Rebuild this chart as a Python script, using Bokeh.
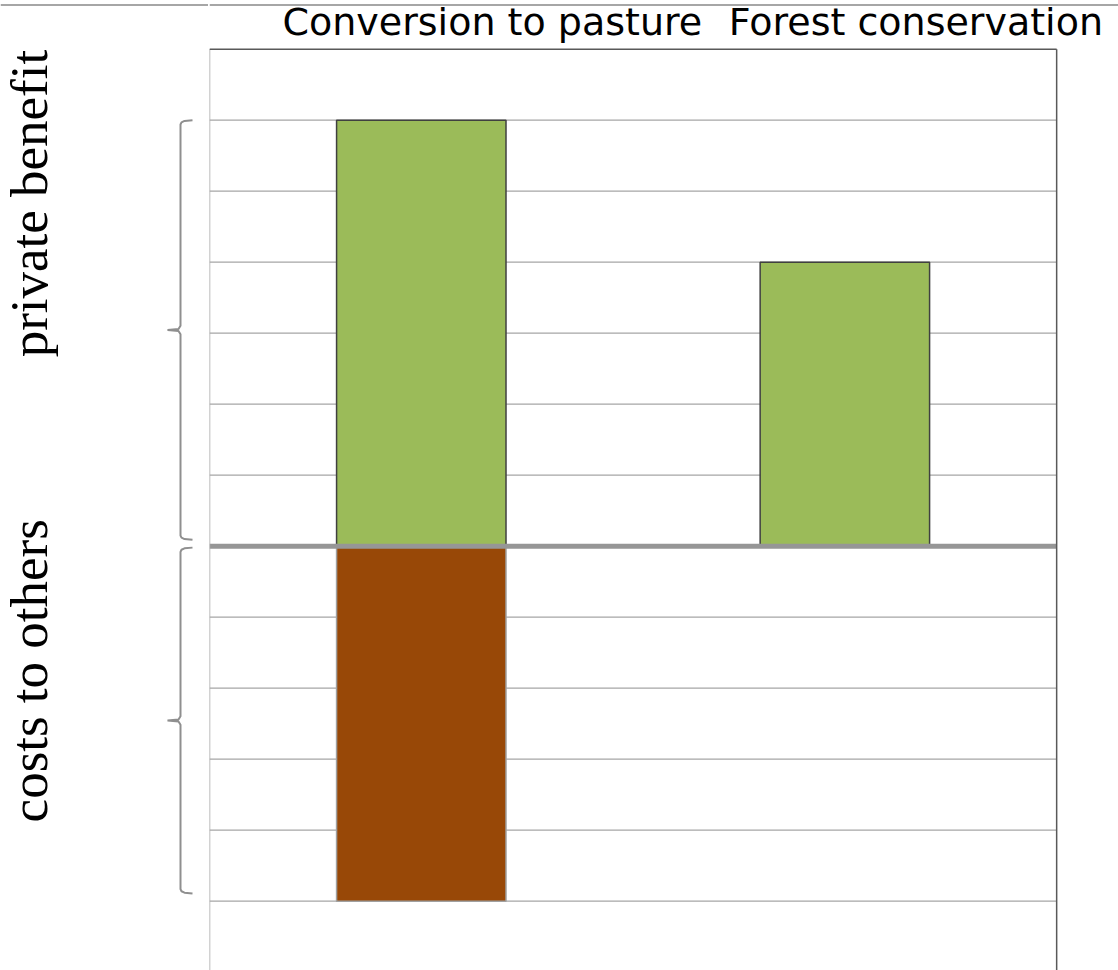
import math
from bokeh.plotting import figure
from bokeh.models import Range1d, Span, ColumnDataSource
from bokeh.layouts import row
from bokeh.core.properties import value
from bokeh.embed import file_html
from bokeh.resources import INLINE

# ---- data ----
categories = ["Conversion to pasture", "Forest conservation"]
private_benefit = [6, 4]
costs_to_others = [-5, 0]
gridline_values = [-5, -4, -3, -2, -1, 1, 2, 3, 4, 5, 6]
box_top = 7                      # top edge of the plot box (value units)
y_min, y_max = -5.976, 7.686     # visible value range of the page
x_max = 2.146                    # category units visible (labels overflow the box)
side_labels = ["private benefit", "costs to others"]
side_label_starts = [2.66, -3.89]
cat_label_y = 7.39
page_rule_y = 7.622

GREEN = "#9BBB59"
BROWN = "#984807"
GRID = "#A6A6A6"
DARK = "#595959"

n = len(categories)
x_pos = [i + 0.5 for i in range(n)]
yr = Range1d(y_min, y_max)

# ---- main chart ----
main = figure(width=910, height=970,
              x_range=Range1d(0, x_max), y_range=yr,
              x_axis_location=None, y_axis_location=None,
              toolbar_location=None, output_backend="svg",
              min_border_left=1, min_border_right=0,
              min_border_top=0, min_border_bottom=0,
              outline_line_color=None)
main.grid.visible = False

main.segment(x0=0, x1=n, y0=gridline_values, y1=gridline_values,
             line_color=GRID, line_width=1.3)

src = ColumnDataSource(dict(x=x_pos, pb=private_benefit, co=costs_to_others))
main.vbar(x="x", top="co", bottom=0, width=0.4, source=src,
          fill_color=BROWN, line_color="#A0A0A0", line_width=1.5)
main.vbar(x="x", top="pb", bottom=0, width=0.4, source=src,
          fill_color=GREEN, line_color="#404040", line_width=1.5)

# zero line and plot box
main.segment(x0=0, x1=n, y0=0, y1=0, line_color="#969696", line_width=5)
main.segment(x0=0, x1=0, y0=y_min, y1=box_top, line_color=GRID, line_width=1.5)
main.segment(x0=n, x1=n, y0=y_min, y1=box_top, line_color=DARK, line_width=1.5)
main.segment(x0=0, x1=n, y0=box_top, y1=box_top, line_color=DARK, line_width=1.5)

main.text(x=x_pos, y=[cat_label_y] * n, text=categories, x_offset=71,
          text_align="center", text_baseline="alphabetic",
          text_font=value("DejaVu Sans"), text_font_size="38px",
          text_color="#000000")

main.add_layout(Span(location=page_rule_y, dimension="width", line_color=GRID, line_width=2))

# ---- left side: braces and rotated labels ----
left = figure(width=208, height=970, x_range=Range1d(0, 208), y_range=yr,
              x_axis_location=None, y_axis_location=None,
              toolbar_location=None, output_backend="svg",
              min_border_left=0, min_border_right=0,
              min_border_top=0, min_border_bottom=0,
              outline_line_color=None)
left.grid.visible = False

left.text(x=[28, 28], y=side_label_starts, text=side_labels, angle=math.pi / 2,
          text_align="left", text_baseline="alphabetic",
          text_font=value("Liberation Serif"), text_font_size="53px",
          text_color="#000000")


def brace(top, bot):
    mid = (top + bot) / 2
    xs = [192, 184, 181, 180, 180, 178, 167, 178, 180, 180, 181, 184, 192]
    ys = [top, top - 0.01, top - 0.03, top - 0.06, mid + 0.06, mid + 0.015, mid,
          mid - 0.015, mid - 0.06, bot + 0.06, bot + 0.03, bot + 0.01, bot]
    return xs, ys


for top, bot in [(max(private_benefit), 0.09), (-0.02, min(costs_to_others) + 0.11)]:
    bx, by = brace(top, bot)
    left.line(bx, by, line_color="#8F8F8F", line_width=2)

left.add_layout(Span(location=page_rule_y, dimension="width", line_color=GRID, line_width=2))

layout = row(left, main)

open("out.html", "w").write(file_html(layout, INLINE))
